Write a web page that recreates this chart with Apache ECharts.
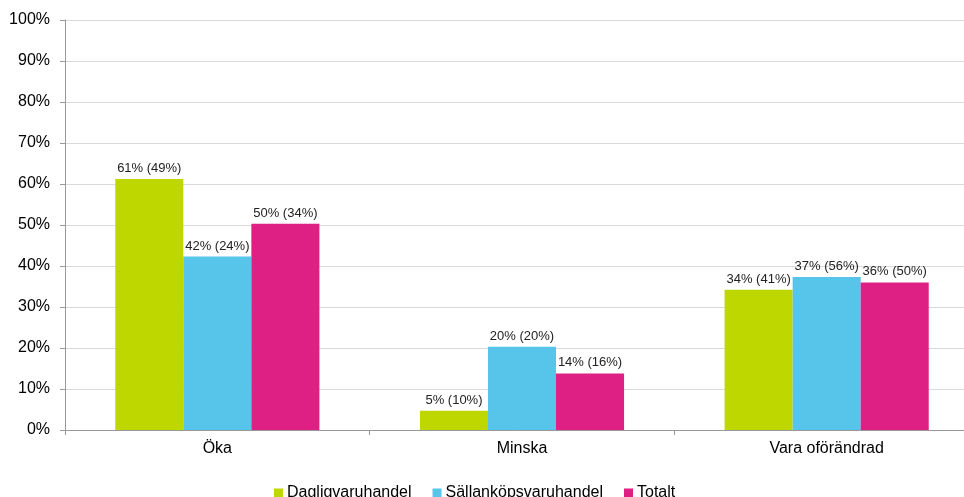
<!DOCTYPE html>
<html>
<head>
<meta charset="utf-8">
<script src="https://cdn.jsdelivr.net/npm/echarts@6/dist/echarts.min.js"></script>
<style>html,body{margin:0;padding:0;background:#fff;}#c{width:964px;height:497px;}</style>
</head>
<body>
<div id="c"></div>
<script>
const categories = ['Öka', 'Minska', 'Vara oförändrad'];
const seriesNames = ['Dagligvaruhandel', 'Sällanköpsvaruhandel', 'Totalt'];
const dagligvaru = [61.2, 4.7, 34.2];
const sallankop = [42.3, 20.3, 37.3];
const totalt = [50.3, 13.8, 36.0];
const dagligvaruLabels = ['61% (49%)', '5% (10%)', '34% (41%)'];
const sallankopLabels = ['42% (24%)', '20% (20%)', '37% (56%)'];
const totaltLabels = ['50% (34%)', '14% (16%)', '36% (50%)'];
const yTicks = [0, 10, 20, 30, 40, 50, 60, 70, 80, 90, 100];
const colors = ['#BFD700', '#56C5E9', '#DE1F84'];

const font = 'Liberation Sans, Arial, sans-serif';
const chart = echarts.init(document.getElementById('c'), null, {renderer: 'canvas'});
function mk(name, data, labels, color) {
  return {
    name: name, type: 'bar', data: data, barGap: '0%', barCategoryGap: '33%',
    itemStyle: {color: color},
    label: {show: true, position: 'top', distance: 4, color: '#222', fontFamily: font, fontSize: 13,
      formatter: p => labels[p.dataIndex]}
  };
}
chart.setOption({
  animation: false,
  color: colors,
  grid: {left: 65, width: 914, top: 20, height: 410, containLabel: false, outerBoundsMode: 'none'},
  legend: {
    data: seriesNames, top: 485, left: 274, padding: 0, itemWidth: 9, itemHeight: 9, itemGap: 21,
    icon: 'rect', textStyle: {fontFamily: font, fontSize: 16, color: '#000', padding: [0, 0, 0, -1]}
  },
  xAxis: {
    type: 'category', data: categories,
    axisLine: {lineStyle: {color: '#999'}},
    axisTick: {show: true, length: 5, lineStyle: {color: '#999'}},
    axisLabel: {fontFamily: font, fontSize: 16, color: '#000', margin: 11}
  },
  yAxis: {
    type: 'value', min: yTicks[0], max: yTicks[yTicks.length - 1], interval: 10,
    axisLine: {show: true, lineStyle: {color: '#999'}},
    axisTick: {show: true, length: 5, lineStyle: {color: '#999'}},
    splitLine: {lineStyle: {color: '#d9d9d9'}},
    axisLabel: {fontFamily: font, fontSize: 16, color: '#000', margin: 15, formatter: v => v + '%'}
  },
  series: [
    mk(seriesNames[0], dagligvaru, dagligvaruLabels, colors[0]),
    mk(seriesNames[1], sallankop, sallankopLabels, colors[1]),
    mk(seriesNames[2], totalt, totaltLabels, colors[2])
  ]
});
</script>
</body>
</html>
